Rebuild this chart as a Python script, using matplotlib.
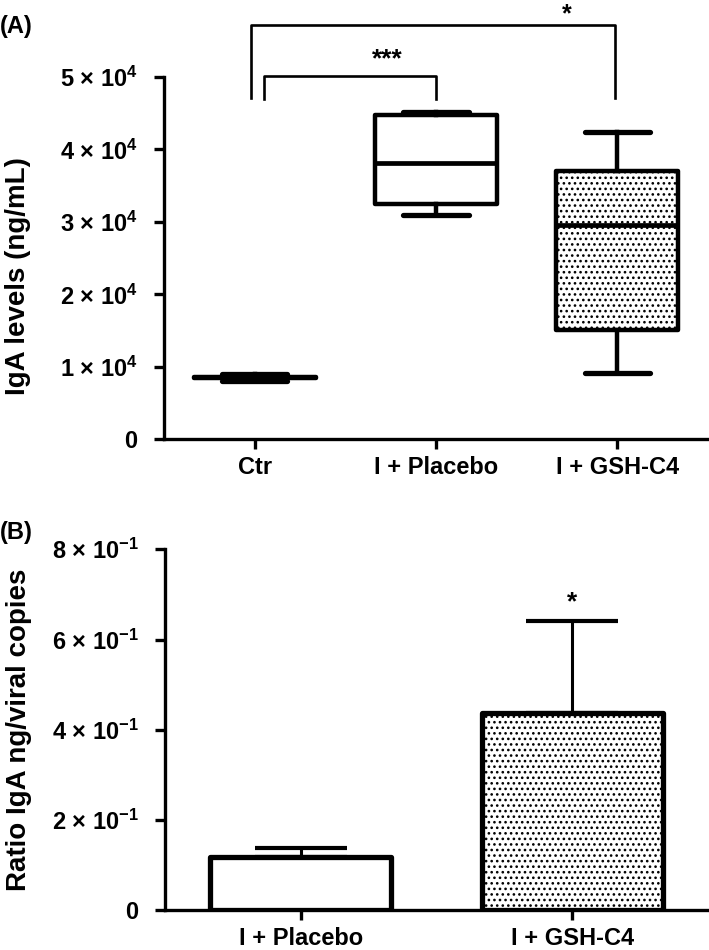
import numpy as np
import matplotlib
matplotlib.use("Agg")
import matplotlib.pyplot as plt

plt.rcParams["font.family"] = ["Liberation Sans", "DejaVu Sans"]
plt.rcParams["font.weight"] = "bold"
plt.rcParams["mathtext.fontset"] = "custom"
plt.rcParams["mathtext.rm"] = "Liberation Sans:bold"
plt.rcParams["mathtext.bf"] = "Liberation Sans:bold"
plt.rcParams["mathtext.default"] = "bf"
plt.rcParams["hatch.color"] = "black"
plt.rcParams["hatch.linewidth"] = 1.1

# panel A: box plot of IgA levels (ng/mL)
groups_a = ["Ctr", "I + Placebo", "I + GSH-C4"]
box_min = [8.0e3, 3.10e4, 0.91e4]
box_q1 = [8.5e3, 3.24e4, 1.51e4]
box_med = [8.6e3, 3.81e4, 2.96e4]
box_q3 = [8.65e3, 4.48e4, 3.70e4]
box_max = [8.95e3, 4.52e4, 4.24e4]
box_hatch = [None, None, "..."]
yticks_a = [0, 1e4, 2e4, 3e4, 4e4, 5e4]
yticklabels_a = ["0", r"1 × $10^{4}$", r"2 × $10^{4}$", r"3 × $10^{4}$",
                 r"4 × $10^{4}$", r"5 × $10^{4}$"]

# panel B: ratio IgA ng / viral copies (mean + SD)
groups_b = ["I + Placebo", "I + GSH-C4"]
ratio_mean = [0.119, 0.437]
ratio_sd = [0.020, 0.205]
bar_hatch = [None, "..."]
yticks_b = [0, 0.2, 0.4, 0.6, 0.8]
yticklabels_b = ["0", r"2 × $10^{-1}$", r"4 × $10^{-1}$", r"6 × $10^{-1}$",
                 r"8 × $10^{-1}$"]

fig = plt.figure(figsize=(7.09, 9.5), dpi=100)
ax1 = fig.add_axes([0.2313, 0.5376, 0.767, 0.3814])
ax2 = fig.add_axes([0.2327, 0.0416, 0.766, 0.3802])

for ax in (ax1, ax2):
    ax.spines["top"].set_visible(False)
    ax.spines["right"].set_visible(False)
    ax.spines["left"].set_linewidth(2.4)
    ax.spines["bottom"].set_linewidth(2.4)
    ax.tick_params(axis="y", direction="out", length=7, width=2.4,
                   labelsize=17, pad=12)
    ax.tick_params(axis="x", direction="out", length=7, width=2.4,
                   labelsize=17, pad=5)

# --- panel A
stats = []
for i in range(3):
    stats.append(dict(med=box_med[i], q1=box_q1[i], q3=box_q3[i],
                      whislo=box_min[i], whishi=box_max[i], label=groups_a[i]))
pos = np.arange(1, 4)
bp = ax1.bxp(stats, positions=pos, widths=0.674, showfliers=False,
             patch_artist=True, capwidths=0.36,
             boxprops=dict(linewidth=3.2, edgecolor="black", facecolor="white"),
             medianprops=dict(linewidth=3.4, color="black"),
             whiskerprops=dict(linewidth=3.2, color="black"),
             capprops=dict(linewidth=3.8, color="black", solid_capstyle="round"))
for patch, h in zip(bp["boxes"], box_hatch):
    patch.set_joinstyle("round")
    if h:
        patch.set_hatch(h)

ax1.set_xlim(0.5, 3.5)
ax1.set_ylim(0, 5e4)
ax1.set_yticks(yticks_a)
ax1.set_yticklabels(yticklabels_a)
ax1.set_xticks(pos)
ax1.set_xticklabels(groups_a)
ax1.set_ylabel("IgA levels (ng/mL)", fontsize=20, fontweight="bold")
ax1.yaxis.set_label_coords(-0.245, 0.45)

# significance brackets
ax1.plot([0.98, 0.98, 2.99, 2.99], [4.71e4, 5.72e4, 5.72e4, 4.71e4],
         color="black", lw=1.9, clip_on=False)
ax1.plot([1.05, 1.05, 2.0, 2.0], [4.70e4, 5.02e4, 5.02e4, 4.70e4],
         color="black", lw=1.9, clip_on=False)
ax1.text(1.73, 5.08e4, "***", ha="center", va="bottom", fontsize=19)
ax1.text(2.72, 5.70e4, "*", ha="center", va="bottom", fontsize=18)

# --- panel B
pos_b = np.arange(1, 3)
ax2.errorbar(pos_b, ratio_mean, yerr=[np.zeros(2), ratio_sd], fmt="none",
             ecolor="black", elinewidth=2.2, capsize=33, capthick=3.0, zorder=1)
bars = ax2.bar(pos_b, ratio_mean, width=0.667, color="white",
               edgecolor="black", linewidth=3.8, zorder=2)
for b, h in zip(bars, bar_hatch):
    b.set_joinstyle("round")
    if h:
        b.set_hatch(h)

ax2.set_xlim(0.5, 2.5)
ax2.set_ylim(0, 0.8)
ax2.set_yticks(yticks_b)
ax2.set_yticklabels(yticklabels_b)
ax2.set_xticks(pos_b)
ax2.set_xticklabels(groups_b)
ax2.set_ylabel("Ratio IgA ng/viral copies", fontsize=20, fontweight="bold")
ax2.yaxis.set_label_coords(-0.245, 0.5)
ax2.text(2, ratio_mean[1] + ratio_sd[1] + 0.015, "*", ha="center",
         va="bottom", fontsize=19)

fig.text(0.0, 1 - 27 / 950, "(A)", fontsize=17, fontweight="bold", va="center")
fig.text(0.0, 1 - 533 / 950, "(B)", fontsize=17, fontweight="bold", va="center")

fig.savefig("out.png", dpi=100)
